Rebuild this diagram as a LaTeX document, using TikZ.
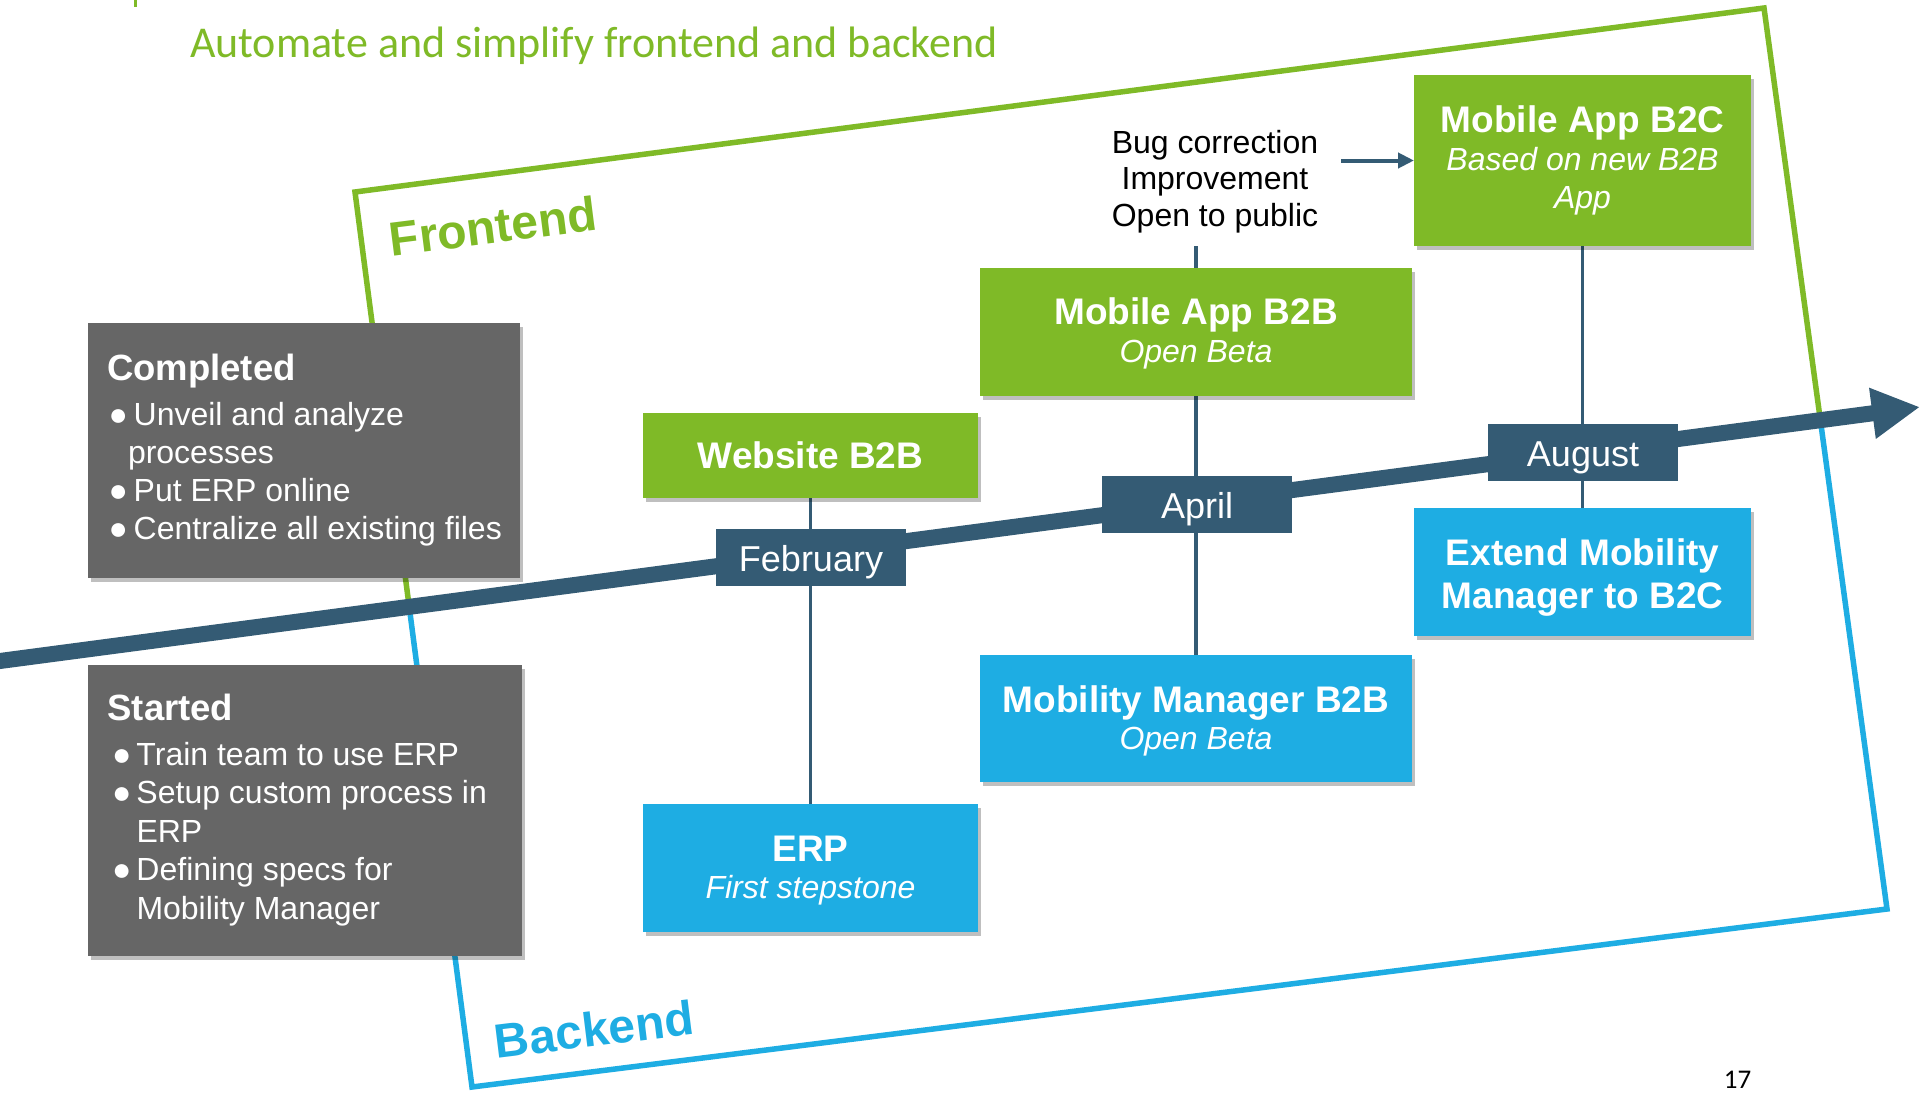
\documentclass[tikz,border=0pt]{standalone}
\usepackage{fontspec}
\setmainfont{Liberation Sans}
\newfontfamily\calfont{Carlito}
\usetikzlibrary{shadows,arrows.meta,calc}
\definecolor{fgreen}{HTML}{7FBA27}
\definecolor{fblue}{HTML}{1EADE3}
\definecolor{slate}{HTML}{345B74}
\definecolor{boxgray}{HTML}{666666}
\pgfdeclarelayer{paperlayer}
\pgfdeclarelayer{framelayer}
\pgfdeclarelayer{linklayer}
\pgfsetlayers{paperlayer,framelayer,linklayer,main}
\newcommand\boxhead[2][27]{{\fontsize{37}{40}\selectfont\bfseries\rule{0pt}{#1pt}#2}}
\newcommand\boxsub[1]{{\fontsize{32}{40}\selectfont\itshape #1}}
\newcommand\bulA{\makebox[26.7pt][l]{\hspace{1.7pt}●}}
\newcommand\bulB{\makebox[29pt][l]{\hspace{4.5pt}●}}
\begin{document}
\begin{tikzpicture}[x=1pt,y=-1pt,
  every node/.style={inner sep=0pt, outer sep=0pt},
  shadowed/.style={drop shadow={shadow xshift=3pt,shadow yshift=-4pt,fill=black,opacity=0.25}},
  greenbox/.style={fill=fgreen, text=white, shadowed, align=center, font=\fontsize{37}{40}\selectfont},
  bluebox/.style={fill=fblue, text=white, shadowed, align=center, font=\fontsize{37}{40}\selectfont},
  graybox/.style={fill=boxgray, shadowed, anchor=north west},
  graytext/.style={anchor=base west, text=white},
  monthbox/.style={fill=slate, text=white, minimum width=190pt, minimum height=57pt,
    text height=36pt, text depth=6.6pt, font=\fontsize{36}{40}\selectfont},
  conn/.style={draw=slate, line width=3.5pt},
  timeline/.style={draw=slate, line width=16pt, -{Triangle[length=48pt,width=48pt]}},
  frameline/.style={line width=5.5pt, line join=miter},
  sidelabel/.style={font=\fontsize{48}{48}\selectfont\bfseries}
]
\useasboundingbox (0,0) rectangle (1920,1093);
\begin{pgfonlayer}{paperlayer}
\fill[white] (0,0) rectangle (1920,1093);
\end{pgfonlayer}

% title and fragment
\fill[fgreen] (134,0) rectangle (137,7);
\node[anchor=base west, font=\calfont\fontsize{44}{48}\selectfont, text=fgreen] (title) at (190,57) {Automate and simplify frontend and backend};

% frame corners and timeline ends
\coordinate (TL) at (355,192);
\coordinate (TR) at (1764,8);
\coordinate (BR) at (1887,909);
\coordinate (BL) at (472,1087);
\coordinate (tlstart) at (-10,662.3);
\coordinate (tlend) at (1920,407);
\coordinate (Lcut) at (intersection of tlstart--tlend and TL--BL);
\coordinate (Rcut) at (intersection of tlstart--tlend and TR--BR);

% boxes
\node[greenbox, minimum width=335pt, minimum height=85pt] (website) at (810.5,455.5) {\boxhead{Website B2B}};
\node[greenbox, minimum width=432pt, minimum height=128pt] (appb2b) at (1196,332) {\boxhead[29.4]{Mobile App B2B}\\[-2.4pt]\boxsub{Open Beta}};
\node[greenbox, minimum width=337pt, minimum height=171pt] (appb2c) at (1582.5,160.5) {\boxhead{Mobile App B2C}\\[-2.4pt]\boxsub{Based on new B2B}\\[-1.2pt]\boxsub{App}};
\node[bluebox, minimum width=337pt, minimum height=128pt] (extend) at (1582.5,572) {\boxhead[37.8]{Extend Mobility}\\[3pt]\boxhead{Manager to B2C}};
\node[bluebox, minimum width=432pt, minimum height=127pt] (mmb2b) at (1196,718.5) {\boxhead[32]{Mobility Manager B2B}\\[-2.4pt]\boxsub{Open Beta}};
\node[bluebox, minimum width=335pt, minimum height=128pt] (erp) at (810.5,868) {\boxhead[30.7]{ERP}\\[-3.7pt]\boxsub{First stepstone}};

\node[monthbox] (feb) at (811,557) {February};
\node[monthbox] (apr) at (1197,504) {April};
\node[monthbox] (aug) at (1583,452) {August};

\node[font=\fontsize{32}{36.7}\selectfont, align=center] (bug) at (1215,181.5) {Bug correction\\Improvement\\Open to public};
\coordinate (bugfoot) at (1196,246);
\coordinate (bugarrow) at (1341,160.5);

% gray boxes
\node[graybox, minimum width=432pt, minimum height=255pt] (completed) at (88,323) {};
\node[graybox, minimum width=434pt, minimum height=291pt] (started) at (88,665) {};
\node[graytext] (completedtext) at (107,380) {\parbox[t]{420pt}{\fontsize{32}{38}\selectfont
{\fontsize{36.5}{38}\selectfont\bfseries Completed}\\[7.6pt]
\bulA Unveil and analyze\\
\hspace*{21pt}processes\\
\bulA Put ERP online\\
\bulA Centralize all existing files}};
\node[graytext] (startedtext) at (107.5,720) {\parbox[t]{420pt}{\fontsize{32}{38.4}\selectfont
{\fontsize{36.5}{38.4}\selectfont\bfseries Started}\\[7.1pt]
\bulB Train team to use ERP\\
\bulB Setup custom process in\\
\hspace*{29pt}ERP\\
\bulB Defining specs for\\
\hspace*{29pt}Mobility Manager}};

% side labels
\node[sidelabel, text=fgreen, rotate=7.2] (frontlabel) at (493,226) {Frontend};
\node[sidelabel, text=fblue, rotate=7] (backlabel) at (594,1029) {Backend};

% page number
\node[anchor=base, font=\calfont\fontsize{27}{30}\selectfont] (pagenum) at (1737.5,1088) {17};

% frame
\begin{pgfonlayer}{framelayer}
\draw[frameline, fgreen] (Lcut) -- (TL) -- (TR) -- (Rcut);
\draw[frameline, fblue] (Lcut) -- (BL) -- (BR) -- (Rcut);
\end{pgfonlayer}

% timeline and connectors
\begin{pgfonlayer}{linklayer}
\draw[timeline] (tlstart) -- (tlend);
\draw[conn] (website) -- (erp);
\draw[conn] (bugfoot) -- (mmb2b);
\draw[conn] (appb2c) -- (extend);
\draw[conn, line width=4pt, -{Triangle[length=16pt,width=15pt]}] (bugarrow) -- (appb2c.west);
\end{pgfonlayer}
\end{tikzpicture}
\end{document}
